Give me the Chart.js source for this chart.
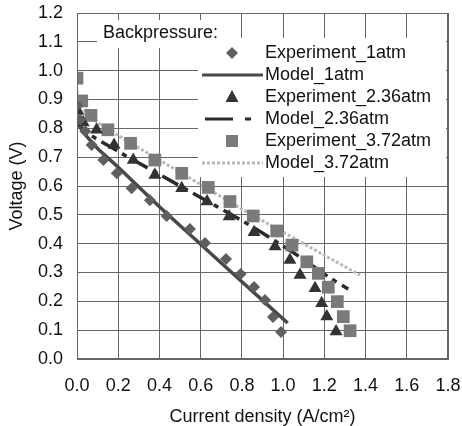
<!DOCTYPE html>
<html>
<head>
<meta charset="utf-8">
<script src="https://cdn.jsdelivr.net/npm/chart.js@4/dist/chart.umd.min.js"></script>
<style>
html,body{margin:0;padding:0;background:#fff;}
#wrap{width:462px;height:426px;position:relative;}
</style>
</head>
<body>
<div id="wrap"><canvas id="c" width="462" height="426"></canvas></div>
<script>
// ---- data ----
const xTicks = [0.0,0.2,0.4,0.6,0.8,1.0,1.2,1.4,1.6,1.8];
const yTicks = [0.0,0.1,0.2,0.3,0.4,0.5,0.6,0.7,0.8,0.9,1.0,1.1,1.2];

const exp1X = [0.0, 0.015, 0.04, 0.071, 0.128, 0.193, 0.265, 0.354, 0.435, 0.548, 0.621, 0.723, 0.794, 0.859, 0.912, 0.951, 0.99];
const exp1Y = [0.88, 0.83, 0.79, 0.742, 0.69, 0.644, 0.592, 0.551, 0.496, 0.451, 0.402, 0.347, 0.295, 0.25, 0.205, 0.146, 0.094];

const exp236X = [0.005, 0.03, 0.095, 0.18, 0.273, 0.378, 0.508, 0.631, 0.738, 0.859, 0.961, 1.033, 1.082, 1.155, 1.187, 1.212, 1.257];
const exp236Y = [0.86, 0.82, 0.795, 0.742, 0.69, 0.638, 0.592, 0.546, 0.494, 0.44, 0.39, 0.343, 0.291, 0.245, 0.193, 0.147, 0.095];

const exp372X = [0.0, 0.023, 0.068, 0.15, 0.26, 0.378, 0.508, 0.637, 0.742, 0.855, 0.969, 1.043, 1.115, 1.171, 1.219, 1.263, 1.292, 1.325];
const exp372Y = [0.974, 0.895, 0.845, 0.795, 0.748, 0.69, 0.644, 0.595, 0.546, 0.496, 0.444, 0.395, 0.337, 0.297, 0.249, 0.199, 0.147, 0.098];

const mod1X = [0.0, 0.05, 0.1, 0.2, 0.4, 0.6, 0.8, 1.022];
const mod1Y = [0.82, 0.77, 0.73, 0.665, 0.528, 0.398, 0.268, 0.125];

const mod236X = [0.0, 0.03, 0.2, 0.4, 0.6, 0.8, 0.96, 1.1, 1.22, 1.316];
const mod236Y = [0.835, 0.795, 0.72, 0.64, 0.56, 0.48, 0.41, 0.345, 0.285, 0.243];

const mod372X = [0.0, 0.02, 0.1, 0.2, 0.4, 0.6, 0.8, 1.0, 1.2, 1.373];
const mod372Y = [0.93, 0.88, 0.82, 0.775, 0.69, 0.605, 0.52, 0.44, 0.36, 0.291];

const seriesNames = ['Experiment_1atm','Model_1atm','Experiment_2.36atm','Model_2.36atm','Experiment_3.72atm','Model_3.72atm'];
const legendTitle = 'Backpressure:';
const xTitle = 'Current density (A/cm\u00B2)';
const yTitle = 'Voltage (V)';

const FONT = '"Liberation Sans", Arial, Helvetica, sans-serif';
const pts = (xs, ys) => xs.map((x, i) => ({x: x, y: ys[i]}));

const C_DIA = '#5f5f5f', C_TRI = '#333333', C_SQ = '#7a7a7a';
const C_M1 = '#484848', C_M2 = '#2a2a2a', C_M3 = '#b8b8b8';

const legendPlugin = {
  id: 'innerLegend',
  beforeDatasetsDraw(chart) {
    const ctx = chart.ctx;
    ctx.save();
    ctx.fillStyle = '#ffffff';
    ctx.fillRect(97, 20, 138, 28);
    ctx.fillRect(198, 38, 248, 139);
    ctx.restore();
  },
  afterDatasetsDraw(chart) {
    const ctx = chart.ctx;
    ctx.save();
    ctx.font = '18px ' + FONT;
    ctx.fillStyle = '#111';
    ctx.textBaseline = 'middle';
    ctx.textAlign = 'left';
    ctx.fillText(legendTitle, 103, 33);
    const rowY = [53, 75, 97, 119, 141, 163];
    const sx = 232;
    rowY.forEach((y, i) => ctx.fillText(seriesNames[i], 265, y));
    ctx.fillStyle = C_DIA;
    ctx.beginPath(); ctx.moveTo(sx, rowY[0]-6); ctx.lineTo(sx+6, rowY[0]); ctx.lineTo(sx, rowY[0]+6); ctx.lineTo(sx-6, rowY[0]); ctx.closePath(); ctx.fill();
    ctx.strokeStyle = C_M1; ctx.lineWidth = 3;
    ctx.beginPath(); ctx.moveTo(202, rowY[1]); ctx.lineTo(263, rowY[1]); ctx.stroke();
    ctx.fillStyle = C_TRI;
    ctx.beginPath(); ctx.moveTo(sx, rowY[2]-7); ctx.lineTo(sx+6.5, rowY[2]+5); ctx.lineTo(sx-6.5, rowY[2]+5); ctx.closePath(); ctx.fill();
    ctx.strokeStyle = C_M2;
    ctx.beginPath(); ctx.moveTo(205, rowY[3]); ctx.lineTo(233, rowY[3]); ctx.moveTo(245, rowY[3]); ctx.lineTo(251, rowY[3]); ctx.stroke();
    ctx.fillStyle = C_SQ;
    ctx.fillRect(sx-6, rowY[4]-6, 12, 12);
    ctx.strokeStyle = C_M3; ctx.setLineDash([3,2]);
    ctx.beginPath(); ctx.moveTo(202, rowY[5]); ctx.lineTo(263, rowY[5]); ctx.stroke();
    ctx.restore();
  }
};

const noPad = s => { s.paddingLeft = 0; s.paddingRight = 0; s.paddingTop = 0; s.paddingBottom = 0; };

new Chart(document.getElementById('c'), {
  type: 'scatter',
  data: {
    datasets: [
      {label: seriesNames[0], data: pts(exp1X, exp1Y), pointStyle: 'rectRot', pointRadius: 6, pointBackgroundColor: C_DIA, pointBorderWidth: 0, showLine: false, order: 0},
      {label: seriesNames[2], data: pts(exp236X, exp236Y), pointStyle: 'triangle', pointRadius: 7.5, pointBackgroundColor: C_TRI, pointBorderWidth: 0, showLine: false, order: 0},
      {label: seriesNames[4], data: pts(exp372X, exp372Y), pointStyle: 'rect', pointRadius: 9, pointBackgroundColor: C_SQ, pointBorderWidth: 0, showLine: false, order: 0},
      {label: seriesNames[1], data: pts(mod1X, mod1Y), showLine: true, pointRadius: 0, borderColor: C_M1, borderWidth: 3.5, tension: 0.3, order: 1},
      {label: seriesNames[3], data: pts(mod236X, mod236Y), showLine: true, pointRadius: 0, borderColor: C_M2, borderWidth: 3.5, borderDash: [18,6,5,6], tension: 0.3, order: 1},
      {label: seriesNames[5], data: pts(mod372X, mod372Y), showLine: true, pointRadius: 0, borderColor: C_M3, borderWidth: 3, borderDash: [3,2], tension: 0.3, order: 2}
    ]
  },
  options: {
    responsive: false,
    animation: false,
    devicePixelRatio: 1,
    layout: {padding: {top: 13, right: 14, left: 0, bottom: 0}},
    plugins: {legend: {display: false}, tooltip: {enabled: false}},
    scales: {
      x: {
        type: 'linear', min: 0, max: 1.8,
        afterBuildTicks: s => { s.ticks = xTicks.map(v => ({value: v})); },
        afterFit: s => { s.height = 67; noPad(s); },
        ticks: {callback: v => Number(v).toFixed(1), color: '#111', font: {family: FONT, size: 18}, padding: 16, maxRotation: 0, autoSkip: false},
        grid: {color: '#666', lineWidth: 1, drawTicks: false},
        border: {color: '#666', width: 1},
        title: {display: true, text: xTitle, color: '#111', font: {family: FONT, size: 18, lineHeight: 1.0}, padding: {top: 0, bottom: 0}}
      },
      y: {
        type: 'linear', min: 0, max: 1.2,
        afterBuildTicks: s => { s.ticks = yTicks.map(v => ({value: v})); },
        afterFit: s => { s.width = 77; noPad(s); },
        ticks: {callback: v => Number(v).toFixed(1), color: '#111', font: {family: FONT, size: 18}, padding: 14, autoSkip: false},
        grid: {color: '#666', lineWidth: 1, drawTicks: false},
        border: {color: '#666', width: 1},
        title: {display: true, text: yTitle, color: '#111', font: {family: FONT, size: 18}, padding: {top: 6, bottom: 6}}
      }
    }
  },
  plugins: [legendPlugin, {
    id: 'frame',
    afterDatasetsDraw(chart) {
      const a = chart.chartArea, ctx = chart.ctx;
      ctx.save(); ctx.strokeStyle = '#666'; ctx.lineWidth = 1;
      ctx.strokeRect(Math.round(a.left)+0.5, Math.round(a.top)+0.5, Math.round(a.right-a.left)-1, Math.round(a.bottom-a.top)-1);
      ctx.restore();
    }
  }]
});
</script>
</body>
</html>
